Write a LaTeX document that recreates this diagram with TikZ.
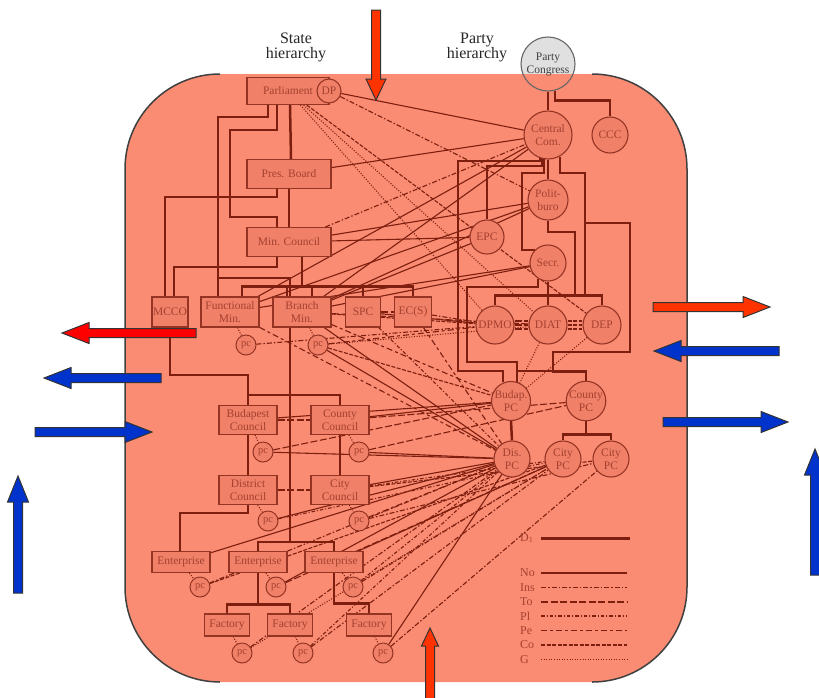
\documentclass[tikz,border=0pt]{standalone}
\usepackage{fontspec}
\setmainfont{Liberation Serif}
\usetikzlibrary{calc}
\definecolor{salmon}{RGB}{250,140,115}
\definecolor{boxfill}{RGB}{240,128,104}
\definecolor{boxline}{RGB}{150,52,36}
\definecolor{brn}{RGB}{125,30,15}
\definecolor{boxtxt}{RGB}{165,65,48}
\definecolor{aBlue}{RGB}{0,51,204}
\definecolor{aOrange}{RGB}{255,51,0}
\pgfdeclarelayer{back}
\pgfdeclarelayer{links}
\pgfsetlayers{back,links,main}
\begin{document}
\begin{tikzpicture}[x=1pt, y=-1pt,
  sbox/.style={draw=boxline, line width=1.1pt, fill=boxfill, text=boxtxt, inner sep=0pt, align=center, font=\fontsize{11.5}{12.5}\selectfont},
  pnode/.style={circle, draw=boxline, line width=1.1pt, fill=boxfill, text=boxtxt, inner sep=0pt, align=center, font=\fontsize{11.5}{13}\selectfont},
  pcn/.style={circle, draw=boxline, line width=1pt, fill=boxfill, text=boxtxt, inner sep=0pt, minimum size=20, font=\fontsize{10.5}{10.5}\selectfont},
  heading/.style={align=center, text=black!85, font=\fontsize{16}{15}\selectfont},
  tree/.style={draw=brn, line width=2.5pt},
  rel/.style={draw=brn, line width=1.1pt},
  rNo/.style={rel},
  rIns/.style={rel, dash pattern=on 5pt off 2pt on 1.5pt off 2pt},
  rTo/.style={rel, dash pattern=on 7pt off 2.5pt},
  rPl/.style={rel, dash pattern=on 3.5pt off 2pt on 1pt off 2pt},
  rPe/.style={rel, dash pattern=on 6pt off 3pt on 3pt off 3pt},
  rCo/.style={rel, dash pattern=on 4pt off 1.5pt},
  rG/.style={rel, dash pattern=on 1pt off 1.6pt},
  blockarr/.style={draw=black!80, line width=1pt, line join=miter},
  legtxt/.style={text=boxtxt, font=\fontsize{12}{12}\selectfont, anchor=west, inner sep=0pt}
]
\useasboundingbox (0,0) rectangle (819,697);

% headings
\node[heading] (shead) at (296,47) {State\\hierarchy};
\node[heading] (phead) at (477,47) {Party\\hierarchy};

% party hierarchy
\node[pnode, minimum size=54, fill=none, draw=black!60, text=black!75] (pcong) at (548,64) {Party\\Congress};
\node[pnode, minimum size=48] (cc) at (548,135) {Central\\Com.};
\node[pnode, minimum size=36] (ccc) at (610,135) {CCC};
\node[pnode, minimum size=40] (polit) at (548,200) {Polit-\\buro};
\node[pnode, minimum size=34] (epc) at (487,237) {EPC};
\node[pnode, minimum size=36] (secr) at (548,263) {Secr.};
\node[pnode, minimum size=38] (dpmo) at (495,325) {DPMO};
\node[pnode, minimum size=38] (diat) at (548,325) {DIAT};
\node[pnode, minimum size=38] (dep) at (602,325) {DEP};
\node[pnode, minimum size=38] (budpc) at (511,401) {Budap.\\PC};
\node[pnode, minimum size=38] (countypc) at (586,401) {County\\PC};
\node[pnode, minimum size=36] (dispc) at (512,459) {Dis.\\PC};
\node[pnode, minimum size=36] (citya) at (563,459) {City\\PC};
\node[pnode, minimum size=36] (cityb) at (611,459) {City\\PC};

% state hierarchy
\node[sbox, minimum width=82, minimum height=27] (parl) at (288,91) {Parliament};
\node[pnode, minimum size=24] (dp) at (329,91) {DP};
\node[sbox, minimum width=84, minimum height=29] (pres) at (289,174) {Pres. Board};
\node[sbox, minimum width=84, minimum height=29] (minc) at (289,242) {Min. Council};
\node[sbox, minimum width=36, minimum height=30] (mcco) at (170,312) {MCCO};
\node[sbox, minimum width=58, minimum height=30] (func) at (230,312) {Functional\\Min.};
\node[sbox, minimum width=58, minimum height=30] (branch) at (302,312) {Branch\\Min.};
\node[sbox, minimum width=35, minimum height=30] (spc) at (363,312) {SPC};
\node[sbox, minimum width=37, minimum height=30] (ecs) at (413,312) {EC(S)};
\node[pcn] (pcfunc) at (246,345) {pc};
\node[pcn] (pcbranch) at (318,345) {pc};
\node[sbox, minimum width=58, minimum height=29] (budc) at (248,420) {Budapest\\Council};
\node[sbox, minimum width=58, minimum height=29] (cntc) at (340,420) {County\\Council};
\node[pcn] (pcbud) at (263,452) {pc};
\node[pcn] (pccnt) at (359,452) {pc};
\node[sbox, minimum width=58, minimum height=29] (distc) at (248,490) {District\\Council};
\node[sbox, minimum width=58, minimum height=29] (cityc) at (340,490) {City\\Council};
\node[pcn] (pcdist) at (268,521) {pc};
\node[pcn] (pccity) at (359,521) {pc};
\node[sbox, minimum width=58, minimum height=21] (ent1) at (181,562) {Enterprise};
\node[sbox, minimum width=58, minimum height=21] (ent2) at (258,562) {Enterprise};
\node[sbox, minimum width=58, minimum height=21] (ent3) at (334,562) {Enterprise};
\node[pcn] (pcent1) at (200,587) {pc};
\node[pcn] (pcent2) at (276,587) {pc};
\node[pcn] (pcent3) at (353,587) {pc};
\node[sbox, minimum width=45, minimum height=22] (fac1) at (227,625) {Factory};
\node[sbox, minimum width=45, minimum height=22] (fac2) at (290,625) {Factory};
\node[sbox, minimum width=45, minimum height=22] (fac3) at (369,625) {Factory};
\node[pcn] (pcfac1) at (242,653) {pc};
\node[pcn] (pcfac2) at (303,653) {pc};
\node[pcn] (pcfac3) at (383,653) {pc};

% legend
\node[legtxt] (legd) at (520,538) {D\textsubscript{1}};
\draw[tree, line width=3pt] ($(legd.west)+(21,0)$) -- ++(89,0);
\foreach \lab/\sty [count=\i] in {No/rNo, Ins/rIns, To/rTo, Pl/rPl, Pe/rPe, Co/rCo, G/rG}{
  \node[legtxt] (leg\i) at (520,{573+14.4*(\i-1)}) {\lab};
  \draw[\sty, line width=1.6pt] ($(leg\i.west)+(21,0)$) -- ++(86,0);
}

\begin{pgfonlayer}{back}
\fill[black!12] (pcong.center) circle (27pt);
\fill[salmon, rounded corners=95pt] (125,74) rectangle (687,682);
\draw[black!75, line width=1.5pt, rounded corners=95pt] (220,74) -- (125,74) -- (125,682) -- (220,682);
\draw[black!75, line width=1.5pt, rounded corners=95pt] (592,74) -- (687,74) -- (687,682) -- (592,682);
\end{pgfonlayer}

\begin{pgfonlayer}{links}
% relations
\foreach \a/\b in {dp/cc, pres/cc, minc/polit, func/cc, func/polit, branch/cc, branch/polit, branch/epc, minc/epc, func/secr, branch/secr, spc/dpmo, pcbranch/dispc, branch/dispc, pcbud/dispc, pccnt/dispc, pcdist/dispc, cityc/dispc, ent1/dispc, pcent2/dispc, cntc/budpc, budc/budpc, ent3/citya, pcfac3/dispc}
  \draw[rNo] (\a) -- (\b);
\foreach \a/\b in {dp/polit, minc/cc, pcfunc/dpmo, pcent1/dispc, pcent3/citya, pcfac1/dispc, pcfac3/cityb, pcfac2/citya, pccity/cityb, ecs/dpmo}
  \draw[rIns] (\a) -- (\b);
\foreach \a/\b in {budc/cntc, distc/cityc, branch/diat, pcbud/budpc, pccnt/countypc, cntc/countypc, pcent2/citya, spc/ecs}
  \draw[rTo] (\a) -- (\b);
\foreach \a/\b in {pcdist/citya, cityc/citya, pcent3/dispc, spc/dispc, pcfac2/dispc}
  \draw[rPl] (\a) -- (\b);
\foreach \a/\b in {branch/budpc, func/dispc, pcbranch/dpmo, ecs/dispc, pccity/dispc}
  \draw[rPe] (\a) -- (\b);
\foreach \a/\b in {parl/dep, branch/dpmo, cityc/cityb, pcbranch/budpc, pcent1/citya}
  \draw[rCo] (\a) -- (\b);
\foreach \a/\b in {parl/dpmo, parl/diat, pcbranch/diat, dep/budpc, pcfac1/citya, diat/budpc}
  \draw[rG] (\a) -- (\b);
\foreach \s in {-4,0,4}{
  \draw[rTo] ($(dpmo.east)+(0,\s)$) -- ($(diat.west)+(0,\s)$);
  \draw[rCo] ($(diat.east)+(0,\s)$) -- ($(dep.west)+(0,\s)$);
}
% pc to their boxes
\foreach \a/\b in {func/pcfunc, branch/pcbranch, budc/pcbud, cntc/pccnt, distc/pcdist, cityc/pccity, ent1/pcent1, ent2/pcent2, ent3/pcent3, fac1/pcfac1, fac2/pcfac2, fac3/pcfac3}
  \draw[rG] (\a) -- (\b);

% party tree
\draw[tree] (pcong.south) -- (cc.north);
\draw[tree] ($(pcong.south)+(7,-1)$) -- ++(0,10) -| (ccc.north);
\draw[tree] (cc.south) -- (polit.north);
\draw[tree] ($(cc.south)+(-6,-2)$) |- (487,166) -- (epc.north);
\draw[tree] ($(cc.south)+(-8,-3)$) |- (458,161) |- (503,371) -- ($(budpc.north)+(-8,1)$);
\draw[tree] ($(cc.south)+(-4,-1)$) |- (522,173) |- (secr.north west);
\draw[tree] ($(cc.south)+(12,-3)$) |- (585,173) -- (585,297);
\draw[tree] (585,223) -| (630,352) -| (553,372) -| (countypc.north);
\draw[tree] (polit.south) |- (575,232) -- (575,297);
\draw[tree] (secr.south) -- (diat.north);
\draw[tree] (dpmo.north) -- ++(0,-10) -| (dep.north);
\draw[tree] ($(secr.south)+(-10,-3)$) |- (467,287) |- (517,362) -- ($(budpc.north)+(6,1)$);
\draw[tree] ($(budpc.north)+(6,1)$) -- ++(0,-11) -| (countypc.north);
\draw[tree] (budpc.south) -- (dispc.north);
\draw[tree] (countypc.south) -- ++(0,13) coordinate (cbus);
\draw[tree] (citya.north) |- (cbus) -| (cityb.north);

% state tree
\draw[tree] ($(parl.south)+(-20,0)$) |- (218,117) |- ($(func.north)+(-12,0)$);
\draw[tree] ($(parl.south)+(-11,0)$) |- (230,130) |- (277,217) -- ($(minc.north)+(-12,0)$);
\draw[tree] ($(parl.south)+(2,0)$) -- ($(pres.north)+(2,0)$);
\draw[tree] ($(pres.south)+(-12,0)$) |- (165,197) -- ($(mcco.north)+(-5,0)$);
\draw[tree] (pres.south) -- (minc.north);
\draw[tree] ($(minc.south)+(-12,0)$) |- (174,267) -- ($(mcco.north)+(4,0)$);
\draw[tree] ($(minc.south)+(13,0)$) -- ++(0,31);
\draw[tree] ($(func.north)+(12,0)$) -- ++(0,-10) -| (ecs.north);
\draw[tree] (spc.north) -- ++(0,-10);
\draw[tree] ($(branch.north)+(-15,0)$) -- ++(0,-10);
\draw[tree] ($(branch.north)+(10,0)$) -- ++(0,-10);
\draw[tree] (218,278) -| (290,543);
\draw[tree] (mcco.south) |- (248,375) -- (budc.north);
\draw[tree] (budc.north) -- ++(0,-10) -| (cntc.north);
\draw[tree] (budc.south) -- (distc.north);
\draw[tree] (cntc.south) -- (cityc.north);
\draw[tree] (distc.south) |- (180,513) -- ($(ent1.north)+(-1,0)$);
\draw[tree] (ent2.north) -- ++(0,-9) -| (ent3.north);
\draw[tree] (ent2.south) -- ++(0,32);
\draw[tree] (fac1.north) -- ++(0,-9) -| (fac2.north);
\draw[tree] (ent3.south) |- ($(fac3.north)+(0,-10)$) -- (fac3.north);
\end{pgfonlayer}

% outside arrows
\foreach \xa/\xb/\yy/\col in {196/62/333/red, 161/44/378/aBlue, 35/152/432/aBlue, 653/770/307/aOrange, 779/654/351/aBlue, 663/788/422/aBlue}{
  \pgfmathsetmacro{\hb}{\xb-27*sign(\xb-\xa)}
  \draw[blockarr, fill=\col] (\xa,\yy-4.5) -- (\hb,\yy-4.5) -- (\hb,\yy-10.5) -- (\xb,\yy) -- (\hb,\yy+10.5) -- (\hb,\yy+4.5) -- (\xa,\yy+4.5) -- cycle;
}
\foreach \xx/\ya/\yb/\hl/\hw/\col in {376/10/100/21/10/aOrange, 430/710/628/18/8.5/aOrange, 18/593/476/26/10.5/aBlue, 815/575/449/26/10.5/aBlue}{
  \pgfmathsetmacro{\hb}{\yb-\hl*sign(\yb-\ya)}
  \draw[blockarr, fill=\col] (\xx-4.5,\ya) -- (\xx-4.5,\hb) -- (\xx-\hw,\hb) -- (\xx,\yb) -- (\xx+\hw,\hb) -- (\xx+4.5,\hb) -- (\xx+4.5,\ya) -- cycle;
}
\end{tikzpicture}
\end{document}
